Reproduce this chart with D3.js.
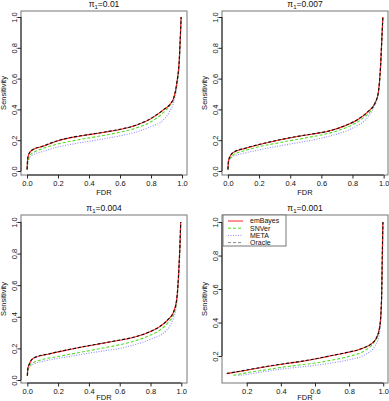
<!DOCTYPE html>
<html>
<head>
<meta charset="utf-8">
<script src="https://cdn.jsdelivr.net/npm/d3@7"></script>
<style>
  body { margin: 0; background: #fff; }
  text { font-family: "Liberation Sans", Arial, sans-serif; fill: #111; }
</style>
</head>
<body>
<div id="chart"></div>
<script>
// method names and line styles
var methods = ["emBayes", "SNVer", "META", "Oracle"];
var titles = ["0.01", "0.007", "0.004", "0.001"];

// [FDR, Sensitivity] pairs
var p1_emBayes = [[0,0.01],[0.002,0.05],[0.006,0.09],[0.015,0.115],[0.04,0.14],[0.1,0.16],[0.2,0.197],[0.3,0.22],[0.4,0.236],[0.5,0.252],[0.6,0.27],[0.7,0.296],[0.8,0.34],[0.88,0.397],[0.925,0.436],[0.946,0.473],[0.966,0.57],[0.982,0.72],[0.99,0.896],[0.994,1.0]];
var p1_SNVer = [[0.001,0.01],[0.004,0.05],[0.01,0.08],[0.02,0.104],[0.05,0.125],[0.1,0.145],[0.2,0.176],[0.3,0.197],[0.4,0.215],[0.5,0.232],[0.6,0.252],[0.7,0.278],[0.8,0.32],[0.88,0.38],[0.925,0.43],[0.95,0.475],[0.968,0.57],[0.983,0.72],[0.99,0.89],[0.994,1.0]];
var p1_META = [[0.001,0.01],[0.005,0.05],[0.012,0.075],[0.03,0.1],[0.1,0.126],[0.2,0.156],[0.3,0.176],[0.4,0.193],[0.5,0.21],[0.6,0.228],[0.7,0.252],[0.8,0.289],[0.88,0.332],[0.92,0.386],[0.95,0.46],[0.97,0.57],[0.984,0.72],[0.991,0.89],[0.995,1.0]];
var p1_Oracle = [[0,0.01],[0.002,0.055],[0.006,0.092],[0.015,0.118],[0.04,0.141],[0.1,0.161],[0.2,0.198],[0.3,0.221],[0.4,0.237],[0.5,0.253],[0.6,0.271],[0.7,0.297],[0.8,0.342],[0.88,0.398],[0.925,0.437],[0.946,0.474],[0.966,0.57],[0.982,0.72],[0.99,0.896],[0.994,1.0]];

var p2_emBayes = [[0,0.01],[0.003,0.06],[0.013,0.093],[0.034,0.119],[0.11,0.147],[0.216,0.175],[0.323,0.2],[0.43,0.221],[0.537,0.239],[0.645,0.258],[0.75,0.293],[0.837,0.336],[0.9,0.386],[0.944,0.44],[0.965,0.505],[0.98,0.68],[0.99,0.896],[0.995,1.0]];
var p2_SNVer = [[0.001,0.01],[0.005,0.06],[0.015,0.085],[0.04,0.108],[0.1,0.13],[0.2,0.158],[0.3,0.178],[0.4,0.197],[0.5,0.215],[0.6,0.234],[0.7,0.26],[0.8,0.3],[0.87,0.345],[0.92,0.395],[0.95,0.45],[0.968,0.52],[0.981,0.68],[0.99,0.89],[0.995,1.0]];
var p2_META = [[0.001,0.01],[0.006,0.06],[0.02,0.085],[0.06,0.105],[0.1,0.115],[0.2,0.137],[0.3,0.157],[0.4,0.175],[0.5,0.193],[0.6,0.213],[0.7,0.24],[0.8,0.278],[0.9,0.354],[0.94,0.42],[0.965,0.5],[0.982,0.68],[0.991,0.89],[0.996,1.0]];
var p2_Oracle = [[0,0.01],[0.003,0.062],[0.013,0.095],[0.034,0.12],[0.11,0.148],[0.216,0.176],[0.323,0.201],[0.43,0.222],[0.537,0.24],[0.645,0.259],[0.75,0.294],[0.837,0.337],[0.9,0.387],[0.944,0.44],[0.965,0.505],[0.98,0.68],[0.99,0.896],[0.995,1.0]];

var p3_emBayes = [[0,0.027],[0.003,0.07],[0.013,0.1],[0.039,0.137],[0.147,0.166],[0.255,0.189],[0.364,0.21],[0.472,0.229],[0.58,0.248],[0.688,0.269],[0.797,0.305],[0.861,0.338],[0.916,0.384],[0.948,0.426],[0.97,0.51],[0.985,0.72],[0.994,0.93],[0.996,1.0]];
var p3_SNVer = [[0.001,0.027],[0.005,0.065],[0.015,0.09],[0.05,0.115],[0.1,0.13],[0.2,0.149],[0.3,0.167],[0.4,0.185],[0.5,0.204],[0.6,0.223],[0.7,0.248],[0.8,0.284],[0.87,0.322],[0.92,0.37],[0.95,0.415],[0.972,0.51],[0.986,0.72],[0.994,0.93],[0.996,1.0]];
var p3_META = [[0.001,0.027],[0.006,0.06],[0.02,0.085],[0.06,0.108],[0.1,0.118],[0.2,0.137],[0.3,0.153],[0.4,0.17],[0.5,0.185],[0.6,0.2],[0.7,0.224],[0.8,0.258],[0.9,0.31],[0.94,0.37],[0.965,0.45],[0.98,0.6],[0.99,0.8],[0.995,0.95],[0.997,1.0]];
var p3_Oracle = [[0,0.027],[0.003,0.072],[0.013,0.102],[0.039,0.138],[0.147,0.167],[0.255,0.19],[0.364,0.211],[0.472,0.23],[0.58,0.249],[0.688,0.27],[0.797,0.306],[0.861,0.339],[0.916,0.385],[0.948,0.427],[0.97,0.51],[0.985,0.72],[0.994,0.93],[0.996,1.0]];

var p4_emBayes = [[0.083,0.095],[0.19,0.114],[0.288,0.132],[0.385,0.148],[0.483,0.162],[0.58,0.178],[0.678,0.198],[0.776,0.218],[0.873,0.244],[0.932,0.274],[0.96,0.308],[0.98,0.377],[0.99,0.536],[0.995,0.835],[0.998,1.0]];
var p4_SNVer = [[0.122,0.085],[0.2,0.1],[0.3,0.116],[0.4,0.132],[0.5,0.145],[0.6,0.158],[0.7,0.176],[0.8,0.198],[0.9,0.238],[0.945,0.28],[0.97,0.33],[0.985,0.43],[0.992,0.6],[0.996,0.83],[0.998,1.0]];
var p4_META = [[0.151,0.083],[0.2,0.09],[0.3,0.106],[0.4,0.122],[0.5,0.133],[0.6,0.144],[0.7,0.159],[0.8,0.178],[0.9,0.212],[0.95,0.258],[0.975,0.32],[0.988,0.45],[0.994,0.65],[0.997,0.85],[0.999,1.0]];
var p4_Oracle = [[0.083,0.096],[0.19,0.115],[0.288,0.133],[0.385,0.149],[0.483,0.163],[0.58,0.179],[0.678,0.199],[0.776,0.219],[0.873,0.245],[0.932,0.275],[0.96,0.308],[0.98,0.377],[0.99,0.536],[0.995,0.835],[0.998,1.0]];

var xTicks = [0, 0.2, 0.4, 0.6, 0.8, 1.0];
var yTicks = [0, 0.2, 0.4, 0.6, 0.8, 1.0];
var xTicks4 = [0.2, 0.4, 0.6, 0.8, 1.0];
var yTicks4 = [0.2, 0.4, 0.6, 0.8, 1.0];

var W = 389, H = 401;
var colors = { emBayes: "#ff2020", SNVer: "#55dd22", META: "#8c8cff", Oracle: "#111" };
var dashes = { emBayes: null, SNVer: "3,2", META: "1,1.5", Oracle: "3,2" };

// panel boxes (pixels: left, right, top, bottom) and axis domains
var panels = [
  { box: [21, 187, 11, 175], xd: [-0.039, 1.032], yd: [-0.026, 1.039], xt: xTicks, yt: yTicks,
    series: [p1_emBayes, p1_SNVer, p1_META, p1_Oracle] },
  { box: [222, 388, 11, 175], xd: [-0.038, 1.028], yd: [-0.026, 1.039], xt: xTicks, yt: yTicks,
    series: [p2_emBayes, p2_SNVer, p2_META, p2_Oracle] },
  { box: [21, 187, 215, 383], xd: [-0.041, 1.037], yd: [-0.019, 1.044], xt: xTicks, yt: yTicks,
    series: [p3_emBayes, p3_SNVer, p3_META, p3_Oracle] },
  { box: [222, 388, 215, 383], xd: [0.055, 1.028], yd: [0.039, 1.042], xt: xTicks4, yt: yTicks4,
    series: [p4_emBayes, p4_SNVer, p4_META, p4_Oracle] }
];

var svg = d3.select("#chart").append("svg")
  .attr("width", W)
  .attr("height", H);

var fmt = d3.format(".1f");

panels.forEach(function(p, i) {
  var x = d3.scaleLinear().domain(p.xd).range([p.box[0], p.box[1]]);
  var y = d3.scaleLinear().domain(p.yd).range([p.box[3], p.box[2]]);
  var g = svg.append("g");

  svg.append("clipPath").attr("id", "clip" + i)
    .append("rect")
    .attr("x", p.box[0]).attr("y", p.box[2])
    .attr("width", p.box[1] - p.box[0]).attr("height", p.box[3] - p.box[2]);

  var line = d3.line()
    .x(function(d) { return x(d[0]); })
    .y(function(d) { return y(d[1]); })
    .curve(d3.curveMonotoneX);

  var lines = g.append("g").attr("clip-path", "url(#clip" + i + ")");
  // draw META, SNVer, emBayes, then Oracle on top
  [2, 1, 0, 3].forEach(function(k) {
    lines.append("path")
      .attr("d", line(p.series[k]))
      .attr("fill", "none")
      .attr("stroke", colors[methods[k]])
      .attr("stroke-width", 1.1)
      .attr("stroke-dasharray", dashes[methods[k]]);
  });

  // box
  g.append("rect")
    .attr("x", p.box[0]).attr("y", p.box[2])
    .attr("width", p.box[1] - p.box[0]).attr("height", p.box[3] - p.box[2])
    .attr("fill", "none")
    .attr("stroke", "#777")
    .attr("stroke-width", 1);

  // x axis
  var xa = g.append("g").attr("transform", "translate(0," + p.box[3] + ")")
    .call(d3.axisBottom(x).tickValues(p.xt).tickFormat(fmt).tickSize(3.5).tickPadding(2));
  // y axis
  var ya = g.append("g").attr("transform", "translate(" + p.box[0] + ",0)")
    .call(d3.axisLeft(y).tickValues(p.yt).tickFormat(fmt).tickSize(3.5).tickPadding(2));

  [xa, ya].forEach(function(a) {
    a.select(".domain").remove();
    a.selectAll("line").attr("stroke", "#222");
    a.selectAll("text").style("font-size", "7.5px").style("font-family", "'Liberation Sans', Arial, sans-serif").attr("fill", "#111");
  });
  // R-style axis lines between first and last tick
  g.append("line")
    .attr("x1", x(p.xt[0])).attr("x2", x(p.xt[p.xt.length - 1]))
    .attr("y1", p.box[3]).attr("y2", p.box[3]).attr("stroke", "#222");
  g.append("line")
    .attr("y1", y(p.yt[0])).attr("y2", y(p.yt[p.yt.length - 1]))
    .attr("x1", p.box[0]).attr("x2", p.box[0]).attr("stroke", "#222");

  // rotate y tick labels (reading upward, like R's default)
  ya.selectAll(".tick text")
    .attr("x", null).attr("dy", null)
    .attr("text-anchor", "middle")
    .attr("transform", "translate(-4.5,0) rotate(-90)");

  var cx = (p.box[0] + p.box[1]) / 2;
  var cy = (p.box[2] + p.box[3]) / 2;

  // title
  var t = g.append("text")
    .attr("x", cx).attr("y", p.box[2] - 4)
    .attr("text-anchor", "middle")
    .style("font-size", "8.5px");
  t.append("tspan").text("\u03c0");
  t.append("tspan").attr("dy", 2).style("font-size", "6px").text("1");
  t.append("tspan").attr("dy", -2).text("=" + titles[i]);

  g.append("text")
    .attr("x", cx).attr("y", Math.min(p.box[3] + 20, 400))
    .attr("text-anchor", "middle")
    .style("font-size", "7.5px")
    .text("FDR");

  g.append("text")
    .attr("transform", "translate(" + (p.box[0] - 15.5) + "," + cy + ") rotate(-90)")
    .attr("text-anchor", "middle")
    .style("font-size", "7.5px")
    .text("Sensitivity");
});

// legend in the last panel
var lg = svg.append("g").attr("transform", "translate(223,215)");
lg.append("rect")
  .attr("x", 0).attr("y", 0)
  .attr("width", 63).attr("height", 31)
  .attr("fill", "#fff")
  .attr("stroke", "#777");
methods.forEach(function(m, k) {
  var yy = 6 + k * 7.2;
  lg.append("line")
    .attr("x1", 5).attr("x2", 20)
    .attr("y1", yy).attr("y2", yy)
    .attr("stroke", m === "Oracle" ? "#888" : colors[m])
    .attr("stroke-width", 1)
    .attr("stroke-dasharray", dashes[m]);
  lg.append("text")
    .attr("x", 27).attr("y", yy + 2.4)
    .style("font-size", "7px")
    .text(m);
});
</script>
</body>
</html>
